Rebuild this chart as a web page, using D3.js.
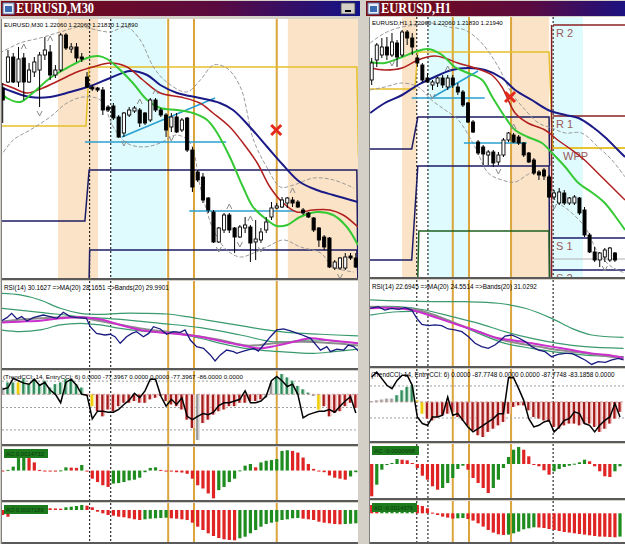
<!DOCTYPE html>
<html>
<head>
<meta charset="utf-8">
<script src="https://cdnjs.cloudflare.com/ajax/libs/d3/7.8.5/d3.min.js"></script>
<style>
  body { margin: 0; background: #d4d0c8; }
  svg { display: block; }
</style>
</head>
<body>
<div id="container"></div>
<script>
// ---------- EURUSD M30 (left window) ----------
const m30Open = [1.2366,1.2372,1.2397,1.2372,1.2396,1.2372,1.2382,1.2384,1.2399,1.2402,1.2379,1.2384,1.2419,1.2405,1.2407,1.2397,1.2377,1.2367,1.2366,1.2364,1.2347,1.2348,1.2337,1.2321,1.2339,1.2343,1.2344,1.2341,1.2334,1.2354,1.2344,1.2339,1.2327,1.2337,1.2324,1.2336,1.2304,1.2282,1.2277,1.2256,1.2242,1.2212,1.2224,1.2239,1.2226,1.2217,1.2226,1.2227,1.2212,1.2214,1.2224,1.2237,1.2246,1.2247,1.2251,1.2254,1.2252,1.2244,1.2241,1.2236,1.2226,1.2217,1.2216,1.2186,1.2186,1.2186,1.2198,1.2196];
const m30High = [1.2371,1.2404,1.2401,1.2407,1.2401,1.2391,1.2397,1.2402,1.2417,1.2409,1.2389,1.2421,1.2421,1.2411,1.2411,1.2401,1.2382,1.2369,1.2367,1.2367,1.2349,1.2351,1.2339,1.2342,1.2347,1.2348,1.2346,1.2342,1.2356,1.2356,1.2346,1.2341,1.2341,1.2341,1.2336,1.2337,1.2307,1.2284,1.2281,1.2257,1.2244,1.2227,1.2241,1.2241,1.2227,1.2229,1.2237,1.2229,1.2234,1.2226,1.2237,1.2252,1.2251,1.2257,1.2257,1.2257,1.2254,1.2246,1.2242,1.2237,1.2227,1.2219,1.2217,1.2194,1.2197,1.2201,1.2201,1.2201];
const m30Low = [1.2331,1.2371,1.2371,1.2367,1.2354,1.2371,1.2377,1.2347,1.2394,1.2374,1.2376,1.2382,1.2404,1.2401,1.2392,1.2392,1.2366,1.2363,1.2362,1.2339,1.2342,1.2334,1.2316,1.2317,1.2337,1.2341,1.2327,1.2329,1.2332,1.2342,1.2337,1.2317,1.2322,1.2321,1.2322,1.2302,1.2262,1.2272,1.2251,1.2241,1.2211,1.2211,1.2221,1.2221,1.2201,1.2216,1.2221,1.2192,1.2194,1.2211,1.2221,1.2234,1.2245,1.2246,1.2246,1.2247,1.2246,1.2239,1.2236,1.2222,1.2207,1.2204,1.2186,1.2184,1.2184,1.2184,1.2194,1.2186];
const m30Close = [1.2354,1.2397,1.2372,1.2395,1.2372,1.2384,1.2392,1.2399,1.2404,1.2379,1.2384,1.2419,1.2406,1.2407,1.2396,1.2395,1.2367,1.2365,1.2364,1.2344,1.2344,1.2336,1.2317,1.2341,1.2344,1.2346,1.2331,1.2331,1.2354,1.2344,1.2339,1.2324,1.2337,1.2322,1.2334,1.2304,1.2267,1.2274,1.2254,1.2244,1.2212,1.2226,1.2239,1.2224,1.2217,1.2227,1.2229,1.2211,1.2215,1.2222,1.2232,1.2246,1.2248,1.2254,1.2256,1.2251,1.2247,1.2241,1.2237,1.2224,1.2214,1.2207,1.2187,1.2192,1.2196,1.2197,1.2196,1.2187];

// moving averages and bands as [bar, price]
const m30MaGreen = [[-0.5,1.2362],[0.8,1.2356],[3.3,1.2352],[5.7,1.2361],[9,1.2376],[12.2,1.2386],[16,1.2396],[18.1,1.2398],[19.8,1.2395],[22.3,1.2384],[24.7,1.2371],[27.4,1.2354],[29.9,1.2346],[33.1,1.2344],[36.1,1.2341],[38.8,1.2334],[40.7,1.2321],[43.1,1.2297],[45.6,1.2267],[47.5,1.2247],[50.2,1.2234],[52,1.2228],[54,1.2229],[56.4,1.2237],[59.6,1.2242],[62.7,1.2239],[65.3,1.2227],[67.4,1.2209]];
const m30MaRed = [[-0.5,1.2371],[2,1.2366],[4.6,1.2361],[7.6,1.2366],[10.9,1.2374],[14.1,1.2382],[17.1,1.2387],[20.4,1.2391],[23.6,1.2387],[26.6,1.2374],[29.9,1.2361],[33.7,1.2357],[37.4,1.2351],[39.9,1.2341],[43.1,1.2327],[45.6,1.2311],[48.3,1.2291],[50.7,1.2267],[53.2,1.2251],[55.8,1.2242],[58.9,1.2244],[62.1,1.2244],[64.6,1.2239],[67.4,1.2227]];
const m30MaBlue = [[-0.5,1.2367],[2,1.2362],[5.2,1.2357],[9,1.2357],[12.8,1.2362],[16.6,1.2368],[20.4,1.2376],[24.2,1.2383],[27.4,1.2379],[29.9,1.2369],[33.1,1.2361],[37.4,1.2356],[41.2,1.2351],[43.7,1.2344],[46.9,1.2327],[50.2,1.2307],[53.2,1.2289],[56.4,1.2272],[59.6,1.2264],[62.7,1.2259],[67.4,1.2252]];
const m30BandUp = [[-0.5,1.2401],[3.3,1.2411],[7.1,1.2416],[10.9,1.2422],[14.7,1.2427],[17.8,1.2424],[20.4,1.2422],[23.5,1.2427],[26.1,1.2414],[28.6,1.2387],[31.1,1.2372],[34.9,1.2362],[37.5,1.2374],[40,1.2389],[42.5,1.2386],[45.1,1.2367],[47.6,1.2314],[50.1,1.2287],[52.7,1.2267],[55.2,1.2269],[59,1.2276],[62.8,1.2274],[66.6,1.2266]];
const m30BandDn = [[-0.5,1.2297],[2,1.2314],[5.2,1.2324],[9,1.2337],[12.2,1.2351],[15.3,1.2357],[18.5,1.2354],[21,1.2327],[23.5,1.2311],[26.7,1.2307],[29.9,1.2311],[33,1.2319],[35.6,1.2311],[37.5,1.2267],[40,1.2224],[42.5,1.2204],[45.1,1.2197],[47.6,1.2201],[50.1,1.2207],[53.3,1.2214],[56.5,1.2207],[60.3,1.2201],[62.8,1.2187],[66.6,1.2182]];
const m30PivotYellow = [[-0.5,1.2328],[15.8,1.2328],[16.4,1.2387],[67.2,1.2387],[67.5,1.2297]];
const m30PivotNavy1 = [[-0.5,1.2233],[15.6,1.2233],[16.4,1.2284],[67.2,1.2284],[67.4,1.2176]];
const m30PivotNavy2 = [[16.4,1.2176],[16.5,1.2204],[67.2,1.2204],[67.4,1.2176]];
const m30Trend = [[[15.6,1.2312],[42.4,1.2312]], [[22.6,1.2317],[40.3,1.2356]], [[35.4,1.2243],[55.5,1.2243]]];
const m30Cross = [51.9, 1.2324];
const m30FractUp = [4, 9, 26, 29, 43, 47, 55];
const m30FractDn = [7, 23, 32, 41, 45, 49, 64];
const m30Peach = [[10.5, 18.1], [54.1, 68]];
const m30Cyan = [[20.5, 31]];
const m30Dotted = [16.5, 20.5];
const m30Orange = [31.4, 36.3, 52];

const m30Rsi = [[-0.5,50.3],[0.8,53.1],[1.7,56.1],[2.7,52.1],[3.6,53.8],[4.6,50.7],[5.8,53.1],[7.7,54.9],[9,53.8],[10.3,52.6],[11.5,56.8],[12.8,53.8],[14.1,53.1],[15.9,52.6],[16.6,46.8],[17.8,42.1],[19.4,41],[20.4,41.5],[21.3,39.8],[22.3,35.2],[23.5,39.8],[24.5,42.1],[25.4,43.3],[26.7,39.8],[27.7,42.1],[28.6,46.8],[29.9,45.2],[31.1,41.5],[32.4,43.3],[33.7,42.8],[34.6,44.5],[35.6,37.5],[36.8,32.9],[38.1,31.7],[39.4,27.1],[40.3,22.9],[41.3,27.1],[42.5,30.5],[43.8,29.4],[44.4,28.2],[45.7,29.8],[47.6,31.7],[48.5,29.8],[49.5,34],[50.8,39.8],[52,44.5],[53.3,45.2],[54.6,43.8],[56.5,41.5],[58.4,38.7],[60.3,30.5],[61.5,32.9],[62.2,29.4],[63.4,31.2],[64.7,30.5],[65.6,34],[66.6,32.9],[67.5,29.8]];
const m30RsiMa = [[-0.5,49.6],[3.3,50.3],[7.1,51],[10.9,52.6],[14.7,53.3],[18.5,51.9],[22.3,48],[26.1,44.5],[29.9,42.8],[33.7,41.5],[37.5,39.8],[41.3,36.8],[45.1,34],[48.9,31.7],[52,33.6],[55.2,36.3],[58.4,38.7],[61.5,37.5],[64.7,36.3],[67.5,35.2]];
const m30RsiMid = [[-0.5,50.3],[7.1,52.6],[14.7,53.1],[18.5,50.7],[26.1,45.6],[33.7,42.1],[41.3,37.5],[46.3,33.6],[51.4,35.2],[56.5,36.3],[62.8,35.2],[67.5,33.6]];
const m30RsiUp = [[-0.5,70],[3.3,68.9],[7.1,65.4],[10.9,59.6],[14.7,56.1],[18.5,55.4],[22.3,56.1],[26.7,56.1],[31.1,55.6],[34.9,53.8],[38.7,51.4],[42.5,49.1],[46.3,46.8],[50.1,44.5],[53.9,42.8],[60.3,41.5],[67.5,40.3]];
const m30RsiBand2 = [[-0.5,59.6],[7.1,56.8],[14.7,53.8],[22.3,51.9],[29.9,49.1],[37.5,46.1],[45.1,41],[51.4,36.3],[59,37.5],[67.5,35.2]];
const m30RsiDn = [[-0.5,44.5],[3.3,43.3],[7.1,44.5],[10.9,48],[14.7,49.1],[18.5,48],[22.3,45.6],[26.1,43.8],[29.9,42.8],[33.7,41.5],[37.5,38.7],[41.3,35.2],[45.1,32.2],[48.9,30.5],[52.7,29.4],[59,28.2],[62.8,29.4],[67.5,31.2]];

const m30Cci = [51,90,90,90,115,77,115,77,103,51,77,90,115,115,77,51,-13,-90,-128,-167,-115,-128,-90,-64,-64,-51,-64,-64,-38,-26,-13,-51,-77,-90,-115,-192,-256,-346,-218,-192,-154,-128,-115,-90,-90,-64,-64,-51,-51,-38,-26,90,128,154,128,103,64,38,13,-13,-115,-90,-167,-141,-128,-90,-64,-103];
const m30CciState = 'nggyggggggggggggryrrrrrrrrrrrrrrrrrrrnrrrrrrrrrrrrnngggggggnyrrrrrrr';
const m30Entry = [38,51,121,103,85,77,115,69,90,33,0,-64,90,115,69,0,-8,-187,-128,-128,-136,-136,-115,-77,-44,8,-26,26,115,115,-13,-90,-38,-77,-26,-167,-192,-167,-146,-154,-136,-85,-64,-64,-51,-38,26,-64,-64,-51,-13,103,136,103,59,77,0,-179,-154,-141,-128,-128,-115,-136,-90,-51,-18,-141];
const m30CciLevels = [100, -100, -270];
const m30Ac = [-0.00007,0.00007,0.0004,0.00127,0.0014,0.00127,0.00083,0.00007,-0.00002,-0.00007,-0.0001,0.00002,0.00033,0.0003,0.00027,0.00057,-0.00003,-0.00083,-0.00117,-0.0015,-0.00167,-0.00133,-0.00127,-0.00117,-0.001,-0.00093,-0.00073,-0.00017,0.00027,0.00033,0.00007,-0.00002,-0.00007,-0.00017,-0.0002,-0.00033,-0.00083,-0.0015,-0.00183,-0.00233,-0.00283,-0.002,-0.00167,-0.00117,-0.00083,0.00002,0.0005,0.00067,0.00033,0.00083,0.001,0.00107,0.00117,0.002,0.00207,0.002,0.00183,0.00133,0.00067,0.00017,-0.00002,-0.00017,-0.0005,-0.00073,-0.00083,-0.00093,-0.0006,-0.00017];
const m30Ao = [-0.0005,-0.00067,-0.00033,-0.00017,-0.00002,0.00007,0.00013,0.00017,0.0002,0.00017,0.00015,0.00013,0.00027,0.00033,0.0004,0.0005,0.00043,0.00027,-0.00017,-0.00033,-0.0005,-0.00057,-0.00067,-0.00073,-0.00083,-0.00093,-0.001,-0.00093,-0.00087,-0.00083,-0.0008,-0.00077,-0.00083,-0.00087,-0.00093,-0.001,-0.00127,-0.00167,-0.002,-0.00233,-0.0026,-0.0028,-0.00293,-0.003,-0.00303,-0.00283,-0.00267,-0.00233,-0.002,-0.00167,-0.0014,-0.00127,-0.00117,-0.001,-0.00093,-0.00083,-0.0008,-0.00087,-0.00093,-0.001,-0.00117,-0.00127,-0.00133,-0.0014,-0.00143,-0.0014,-0.00137,-0.00133];

// ---------- EURUSD H1 (right window) ----------
const h1Open = [1.2374,1.2394,1.2399,1.2407,1.2399,1.2411,1.2399,1.2422,1.2416,1.2396,1.2389,1.2376,1.2369,1.2371,1.2376,1.2367,1.2376,1.2367,1.2362,1.2351,1.2332,1.2312,1.2307,1.2299,1.2302,1.2292,1.2299,1.2314,1.2319,1.2317,1.2311,1.2301,1.2294,1.2282,1.2284,1.2277,1.2257,1.2251,1.2261,1.2251,1.2251,1.2256,1.2244,1.2219,1.2202,1.2194,1.2197,1.2194,1.2201];
const h1High = [1.2396,1.2411,1.2416,1.2417,1.2421,1.2414,1.2424,1.2424,1.2421,1.2399,1.2391,1.2381,1.2374,1.2377,1.2379,1.2379,1.2379,1.2371,1.2364,1.2352,1.2334,1.2314,1.2309,1.2304,1.2304,1.2302,1.2316,1.2322,1.2321,1.2319,1.2312,1.2302,1.2296,1.2284,1.2286,1.2279,1.2264,1.2266,1.2264,1.2257,1.2259,1.2257,1.2247,1.2221,1.2207,1.2202,1.2206,1.2207,1.2202];
const h1Low = [1.2369,1.2387,1.2396,1.2394,1.2397,1.2387,1.2397,1.2409,1.2399,1.2387,1.2372,1.2371,1.2364,1.2367,1.2366,1.2364,1.2366,1.2359,1.2347,1.2331,1.2321,1.2299,1.2289,1.2289,1.2287,1.2289,1.2297,1.2312,1.2311,1.2309,1.2297,1.2291,1.2279,1.2274,1.2274,1.2256,1.2254,1.2249,1.2249,1.2249,1.2249,1.2239,1.2217,1.2201,1.2192,1.2187,1.2192,1.2192,1.2192];
const h1Close = [1.2391,1.2409,1.2407,1.2399,1.2412,1.2397,1.2422,1.2416,1.2407,1.2391,1.2374,1.2372,1.2372,1.2376,1.2369,1.2376,1.2369,1.2362,1.2349,1.2332,1.2322,1.2301,1.2300,1.2302,1.2291,1.2299,1.2314,1.2321,1.2312,1.2311,1.2299,1.2292,1.2281,1.2279,1.2278,1.2257,1.2261,1.2262,1.2251,1.2256,1.2257,1.2241,1.2219,1.2202,1.2194,1.2201,1.2204,1.2206,1.2194];

const h1MaGreen = [[-0.3,1.2392],[2.6,1.2391],[6,1.2397],[8.5,1.2402],[11.1,1.2405],[13.9,1.2399],[16.4,1.2387],[19,1.2381],[21.8,1.2374],[23.8,1.2357],[26.3,1.2337],[28.3,1.2324],[30.8,1.2317],[33.6,1.2311],[35.6,1.2301],[38.2,1.2287],[40.8,1.2271],[43.6,1.2261],[46,1.2251],[48.6,1.2234],[50,1.2224]];
const h1MaRed = [[-0.3,1.2386],[2.6,1.2384],[6,1.2386],[9.1,1.2394],[12.4,1.2398],[14.4,1.2396],[17,1.2391],[20.4,1.2386],[23.7,1.2379],[25.7,1.2367],[28.3,1.2341],[30.8,1.2331],[34.2,1.2324],[36.7,1.2314],[39.5,1.2304],[42,1.2294],[44.6,1.2281],[47.4,1.2267],[50,1.2254]];
const h1MaBlue = [[-0.3,1.2341],[2.6,1.2351],[6,1.2359],[9.1,1.2369],[12.4,1.2377],[15.8,1.2384],[19,1.2386],[22.4,1.2384],[25.7,1.2376],[28.3,1.2364],[31.6,1.2354],[34.8,1.2344],[38.2,1.2339],[40.8,1.2336],[43.6,1.2327],[46,1.2317],[48.6,1.2304],[50,1.2297]];
const h1BandUp = [[-0.3,1.2411],[2.6,1.2421],[5.9,1.2427],[9.2,1.2429],[11.8,1.2431],[15.1,1.2427],[18.4,1.2424],[21.7,1.2411],[25,1.2387],[27.6,1.2361],[30.3,1.2344],[32.9,1.2331],[35.5,1.2326],[38.2,1.2321],[41.4,1.2321],[44.7,1.2307],[47.4,1.2294],[50,1.2277]];
const h1BandDn = [[-0.3,1.2364],[2.6,1.2367],[5.9,1.2371],[9.2,1.2367],[11.8,1.2354],[14.5,1.2344],[17.1,1.2334],[20.4,1.2307],[23,1.2281],[25.7,1.2274],[28.3,1.2272],[31.6,1.2281],[34.2,1.2277],[36.2,1.2254],[38.8,1.2244],[42.1,1.2227],[44.7,1.2201],[47.4,1.2187],[50,1.2181]];
const h1PivotYellow = [[-0.5,1.2365],[8.5,1.2365],[9.1,1.2402],[35,1.2402],[35.7,1.2306],[50,1.2306]];
const h1PivotNavy1 = [[-0.5,1.2305],[7.9,1.2305],[9.1,1.2337],[35,1.2337],[35.1,1.2288]];
const h1PivotNavy2 = [[-0.5,1.2194],[7.9,1.2194],[9.1,1.2288],[35,1.2288],[35.1,1.2177]];
const h1PivotGreen = [[9.1,1.2177],[9.3,1.2223],[35,1.2223],[35.1,1.2177]];
const h1Levels = ['R 2', 'R 1', 'WPP', 'S 1', 'S 2'];
const h1LevelPrice = [1.2429, 1.2338, 1.2306, 1.2216, 1.2184];
const h1Trend = [[[7.9,1.2356],[22.3,1.2356]], [[12.1,1.2357],[21,1.2383]], [[18.2,1.2311],[30.6,1.2311]]];
const h1Cross = [27.3, 1.2357];
const h1FractUp = [15, 28];
const h1FractDn = [4, 12, 25, 36, 46];
const h1Peach = [[6, 8.9], [27.7, 35]];
const h1Cyan = [[11.1, 19.2], [35.8, 41.7]];
const h1Dotted = [8.9, 11.1, 35.8];
const h1Orange = [16, 19.2, 27.5];

const h1Rsi = [[-0.3,58.2],[1.3,59.3],[2.6,57],[3.9,58.2],[5.3,57.5],[6.6,58.6],[7.9,57],[8.9,51.2],[9.9,47],[11.2,46.1],[12.5,46.6],[13.8,46.1],[15.1,43.8],[16.4,43.1],[17.8,41.9],[19.1,38.4],[20.4,33.8],[21.7,31.5],[23,30.3],[24.3,32.6],[25.3,35.4],[26.3,38.9],[27.6,39.6],[28.9,37.7],[30.3,35],[31.6,31.5],[32.9,29.1],[34.2,28],[35.5,24.5],[36.8,26.1],[38.2,26.8],[39.5,26.8],[40.8,24.5],[42.1,22.2],[43.4,19.1],[44.7,21],[46.1,20.5],[47.4,22.2],[48.7,23.3],[49.7,22.2]];
const h1RsiMa = [[-0.3,58.2],[2.6,58.6],[6.6,57.7],[9.2,55.8],[13.2,51.2],[17.1,46.6],[21.1,41.9],[25,37.3],[27.6,36.1],[31.6,33.8],[35.5,31.5],[39.5,29.1],[43.4,26.8],[47.4,25.2],[49.7,23.8]];
const h1RsiMid = [[-0.3,59.3],[5.3,58.6],[9.2,57],[13.2,52.4],[17.1,47],[21.1,41.9],[25,36.8],[28.9,33.8],[32.9,31.5],[36.8,29.1],[40.8,27.5],[44.7,25.6],[49.7,23.3]];
const h1RsiUp = [[-0.3,64],[5.3,63.3],[11.8,62.8],[18.4,62.8],[25,61.7],[30.3,58.2],[35.5,51.2],[39.5,44.2],[43.4,39.6],[49.7,38]];
const h1RsiBand2 = [[-0.3,59.3],[5.3,59.3],[10.5,57],[15.8,52.4],[21.1,47.7],[26.3,41.9],[31.6,37.3],[36.8,33.8],[42.1,31.5],[49.7,30.3]];
const h1RsiDn = [[-0.3,53.5],[5.3,55.8],[10.5,55.4],[15.8,48.9],[21.1,40.7],[26.3,33.8],[31.6,30.3],[36.8,27.5],[42.1,25.6],[49.7,24.5]];

const h1Cci = [6,10,15,21,21,42,73,94,104,10,-73,-104,-115,-94,-83,-73,-62,-94,-115,-146,-177,-208,-219,-187,-167,-146,-125,-73,-31,-21,-21,-52,-94,-104,-115,-125,-156,-167,-146,-135,-135,-146,-135,-135,-156,-187,-167,-135,-104,-62];
const h1CciState = 'nnnnnggggyyrrrrrrrrrrrrrrrrrrrrrrrrrrrrrrrrrrrrrrr';
const h1Entry = [156,187,146,104,83,135,167,167,104,-94,-135,-146,-94,-94,-83,31,-83,-73,-115,-156,-187,-167,-146,-125,-104,-73,-73,152,152,83,10,-104,-156,-146,-125,-115,-187,-156,-115,-104,-62,-73,-135,-146,-187,-146,-115,-94,-10,-94];
const h1CciLevels = [100, -100];
const h1Ac = [-0.00323,-0.00207,-0.00057,-0.00007,0.0001,0.0005,0.00043,0.00037,0.0001,-0.0004,-0.00117,-0.00157,-0.00223,-0.00257,-0.0024,-0.0019,-0.0014,-0.0005,-0.00017,-0.00057,-0.0014,-0.0019,-0.0024,-0.0029,-0.0024,-0.00157,-0.0004,0.0007,0.00143,0.0017,0.00143,0.00077,-0.00003,-0.00023,-0.00063,-0.00107,-0.00073,-0.0005,-0.0003,-0.00017,0.00003,0.00017,0.00043,0.00027,-0.00023,-0.00073,-0.00123,-0.0013,-0.00073,-0.00023];
const h1Ao = [0.00083,0.0006,0.00063,0.00067,0.0007,0.00073,0.00077,0.0008,0.00085,0.00083,0.00073,0.0005,0.00007,-0.00017,-0.00033,-0.00043,-0.00053,-0.0005,-0.00047,-0.00057,-0.00073,-0.001,-0.00133,-0.00167,-0.00193,-0.0021,-0.00217,-0.00213,-0.002,-0.00183,-0.0016,-0.0015,-0.0014,-0.00142,-0.00147,-0.00157,-0.00167,-0.00177,-0.00187,-0.00193,-0.002,-0.00207,-0.00213,-0.0022,-0.00227,-0.00233,-0.00234,-0.00237,-0.0024,-0.00233];

// ---------- drawing ----------
const width = 625;
const height = 544;

const svg = d3.select('#container')
              .append('svg')
              .attr('width', width)
              .attr('height', height);

svg.append('rect').attr('width', width).attr('height', height).attr('fill', '#d4d0c8');

const defs = svg.append('defs');
const grad = defs.append('linearGradient').attr('id', 'titleGrad');
grad.append('stop').attr('offset', '0%').attr('stop-color', '#7c0b10');
grad.append('stop').attr('offset', '60%').attr('stop-color', '#5a0a40');
grad.append('stop').attr('offset', '100%').attr('stop-color', '#12128a');

const FONT = '"Liberation Sans", Arial, sans-serif';
const colGreen = '#1f8c1f', colRed = '#e02424';
const cciDark = {g: '#2f8a5c', r: '#a51c1c', y: '#f0cc00', n: '#9a9a9a'};
const cciLight = {g: '#c4e4d0', r: '#f4c6c6', y: '#f6e79a', n: '#e0e0e0'};

// small label text, font size fitted so the natural width equals len
function smallText(parent, x, y, str, len, color) {
    const t = parent.append('text').attr('x', x).attr('y', y).text(str)
       .attr('font-family', FONT).attr('font-size', 7).attr('fill', color || '#000');
    const natural = t.node().getComputedTextLength();
    if (natural > 0) t.attr('font-size', 7 * len / natural);
    return t;
}

function linePath(g, pts, xs, ys, color, w, curved, dash) {
    const gen = d3.line().x(d => xs(d[0])).y(d => ys(d[1]));
    if (curved) gen.curve(d3.curveCatmullRom);
    g.append('path').datum(pts).attr('d', gen)
     .attr('fill', 'none').attr('stroke', color).attr('stroke-width', w)
     .attr('stroke-dasharray', dash || null);
}

function drawWindow(w) {
    // title bar
    svg.append('rect').attr('x', w.x0).attr('y', 0).attr('width', w.x1 - w.x0).attr('height', 17).attr('fill', '#d4d0c8');
    svg.append('rect').attr('x', w.x0 + 1).attr('y', 1).attr('width', w.x1 - w.x0 - 2).attr('height', 15).attr('fill', 'url(#titleGrad)');
    svg.append('rect').attr('x', w.x0 + 3).attr('y', 3).attr('width', 11).attr('height', 11).attr('fill', '#e8eef8').attr('stroke', '#6080b0');
    svg.append('rect').attr('x', w.x0 + 5).attr('y', 6).attr('width', 7).attr('height', 6).attr('fill', '#3a6ab0');
    svg.append('text').attr('x', w.x0 + 16).attr('y', 13).text(w.title)
       .attr('font-family', '"Liberation Serif", serif').attr('font-weight', 'bold')
       .attr('font-size', 14).attr('fill', '#fff')
       .attr('textLength', w.titleW).attr('lengthAdjust', 'spacingAndGlyphs');
    if (w.button) {
        svg.append('rect').attr('x', w.button).attr('y', 3).attr('width', 14).attr('height', 11)
           .attr('fill', '#d4d0c8').attr('stroke', '#404040').attr('stroke-width', 0.8);
        svg.append('rect').attr('x', w.button + 4).attr('y', 10).attr('width', 6).attr('height', 2).attr('fill', '#000');
    }
    const g = {};
    Object.keys(w.panes).forEach(k => {
        const [y0, y1] = w.panes[k];
        const id = w.id + k;
        defs.append('clipPath').attr('id', id).append('rect')
            .attr('x', w.cx0).attr('y', y0).attr('width', w.cx1 - w.cx0).attr('height', y1 - y0);
        svg.append('rect').attr('x', w.cx0).attr('y', y0).attr('width', w.cx1 - w.cx0).attr('height', y1 - y0).attr('fill', '#fff');
        g[k] = svg.append('g').attr('clip-path', `url(#${id})`);
        svg.append('rect').attr('x', w.cx0).attr('y', y1).attr('width', w.cx1 - w.cx0).attr('height', 2).attr('fill', '#5a5a5a');
    });
    svg.append('line').attr('x1', w.cx0 - 0.5).attr('x2', w.cx0 - 0.5).attr('y1', w.panes.main[0]).attr('y2', height)
       .attr('stroke', '#808080');
    return g;
}

function verticals(g, xs, y0, y1, dotted, orange) {
    g.selectAll(null).data(orange).join('line')
     .attr('x1', d => xs(d)).attr('x2', d => xs(d)).attr('y1', y0).attr('y2', y1)
     .attr('stroke', '#dba43c').attr('stroke-width', 2);
    g.selectAll(null).data(dotted).join('line')
     .attr('x1', d => xs(d)).attr('x2', d => xs(d)).attr('y1', y0).attr('y2', y1)
     .attr('stroke', '#000').attr('stroke-width', 1).attr('stroke-dasharray', '2,2');
}

function drawMain(g, w, d) {
    const [y0, y1] = w.panes.main;
    const xs = w.xs;
    const ys = d3.scaleLinear().domain([1.2454 - y1 / 10000, 1.2454 - y0 / 10000]).range([y1, y0]);
    const step = xs(1) - xs(0);

    g.selectAll(null).data(d.peach).join('rect')
     .attr('x', b => xs(b[0])).attr('width', b => xs(b[1]) - xs(b[0]))
     .attr('y', y0).attr('height', y1 - y0).attr('fill', '#fbe3c7');
    g.selectAll(null).data(d.cyan).join('rect')
     .attr('x', b => xs(b[0])).attr('width', b => xs(b[1]) - xs(b[0]))
     .attr('y', y0).attr('height', y1 - y0).attr('fill', '#dffbfd');

    verticals(g, xs, y0, y1, d.dotted, d.orange);

    linePath(g, d.pivYellow, xs, ys, '#e6c02a', 1.5);
    d.pivNavy.forEach(p => linePath(g, p, xs, ys, '#1c1c64', 1.5));
    if (d.pivGreen) linePath(g, d.pivGreen, xs, ys, '#1f5f1f', 1.5);
    if (d.levels) {
        const lvlColor = ['#8b2020', '#8b2020', '#e6c02a', '#1c1c64', '#1c1c64'];
        d.levels.forEach((name, i) => {
            linePath(g, [[35.8, d.levelPrice[i]], [50, d.levelPrice[i]]], xs, ys, lvlColor[i], 1.5);
            g.append('text').attr('x', xs(35.8) + (name === 'WPP' ? 10 : 3)).attr('y', ys(d.levelPrice[i]) + 12)
             .text(name).attr('font-family', FONT).attr('font-size', 11).attr('fill', '#9a5a5a');
        });
        linePath(g, [[35.8, 1.2195], [50, 1.2195]], xs, ys, '#b0b0b0', 1);
        linePath(g, [[35.5, 1.2177], [35.5, d.levelPrice[0]]], xs, ys, '#8b2020', 1.5);
    }

    linePath(g, d.bandUp, xs, ys, '#9a9a9a', 1, true, '4,2');
    linePath(g, d.bandDn, xs, ys, '#9a9a9a', 1, true, '4,2');

    d.trend.forEach(t => linePath(g, t, xs, ys, '#2a9fd0', 1.5));

    linePath(g, d.maBlue, xs, ys, '#1a1a86', 2, true);
    linePath(g, d.maRed, xs, ys, '#b01e1e', 1.5, true);
    linePath(g, d.maGreen, xs, ys, '#35c935', 2, true);

    const candles = d3.range(d.open.length).map(i => ({i, o: d.open[i], h: d.high[i], l: d.low[i], c: d.close[i]}));
    g.selectAll(null).data(candles).join('line')
     .attr('x1', c => xs(c.i)).attr('x2', c => xs(c.i))
     .attr('y1', c => ys(c.h)).attr('y2', c => ys(c.l))
     .attr('stroke', '#000').attr('stroke-width', 1);
    g.selectAll(null).data(candles).join('rect')
     .attr('x', c => xs(c.i) - step * 0.3).attr('width', step * 0.6)
     .attr('y', c => ys(Math.max(c.o, c.c)))
     .attr('height', c => Math.max(0.8, Math.abs(ys(c.o) - ys(c.c))))
     .attr('fill', c => c.c >= c.o ? '#fff' : '#000')
     .attr('stroke', '#000').attr('stroke-width', 0.9);

    g.selectAll(null).data(d.fractUp).join('path')
     .attr('d', i => `M${xs(i) - 2.5},${ys(d.high[i]) - 4} L${xs(i)},${ys(d.high[i]) - 9} L${xs(i) + 2.5},${ys(d.high[i]) - 4}`)
     .attr('fill', 'none').attr('stroke', '#8a8a8a').attr('stroke-width', 1);
    g.selectAll(null).data(d.fractDn).join('path')
     .attr('d', i => `M${xs(i) - 2.5},${ys(d.low[i]) + 4} L${xs(i)},${ys(d.low[i]) + 9} L${xs(i) + 2.5},${ys(d.low[i]) + 4}`)
     .attr('fill', 'none').attr('stroke', '#8a8a8a').attr('stroke-width', 1);

    const cx = xs(d.cross[0]), cy = ys(d.cross[1]);
    g.append('path').attr('d', `M${cx - 5},${cy - 5} L${cx + 5},${cy + 5} M${cx - 5},${cy + 5} L${cx + 5},${cy - 5}`)
     .attr('stroke', '#e42a1c').attr('stroke-width', 3);

    smallText(svg, w.cx0 + 2, y0 + 8, d.header, d.headerW);
}

function drawRsi(g, w, d) {
    const [y0, y1] = w.panes.rsi;
    const xs = w.xs;
    const ys = d3.scaleLinear().domain([18, 80]).range([w.rsiBase, w.rsiBase - 89]);
    verticals(g, xs, y0, y1, d.dotted, d.orange);
    linePath(g, d.rsiUp, xs, ys, '#3a9a6e', 1.2, true);
    linePath(g, d.rsiBand2, xs, ys, '#3a9a6e', 1.2, true);
    linePath(g, d.rsiDn, xs, ys, '#3a9a6e', 1.2, true);
    linePath(g, d.rsiMid, xs, ys, '#8c8c8c', 2, true);
    linePath(g, d.rsiMa, xs, ys, '#cc30cc', 2, true);
    linePath(g, d.rsi, xs, ys, '#1a1a80', 1.3);
    smallText(svg, w.cx0 + 2, y0 + 9, d.rsiLabel, d.rsiLabelW);
}

function drawCci(g, w, d) {
    const [y0, y1] = w.panes.cci;
    const xs = w.xs;
    const ys = d3.scaleLinear().domain(d.cciDomain).range([y1, y0]);
    verticals(g, xs, y0, y1, d.dotted, d.orange);
    g.selectAll(null).data(d.cciLevels).join('line')
     .attr('x1', w.cx0).attr('x2', w.cx1).attr('y1', v => ys(v)).attr('y2', v => ys(v))
     .attr('stroke', '#a0a0a0').attr('stroke-dasharray', '2,2');
    const bars = d.cci.map((v, i) => ({i, v, s: d.cciState[i]}));
    g.selectAll(null).data(bars).join('rect')
     .attr('x', b => xs(b.i) - 2.2).attr('width', 4.4)
     .attr('y', b => Math.min(ys(b.v), ys(0))).attr('height', b => Math.abs(ys(b.v) - ys(0)))
     .attr('fill', b => cciLight[b.s]);
    g.selectAll(null).data(bars).join('rect')
     .attr('x', b => xs(b.i) - 1.6).attr('width', 2.2)
     .attr('y', b => Math.min(ys(b.v), ys(0))).attr('height', b => Math.abs(ys(b.v) - ys(0)))
     .attr('fill', b => cciDark[b.s]);
    g.append('line').attr('x1', w.cx0).attr('x2', w.cx1).attr('y1', ys(0)).attr('y2', ys(0))
     .attr('stroke', '#c9a0a0').attr('stroke-dasharray', '3,2');
    linePath(g, d.entry.map((v, i) => [i, v]), xs, ys, '#000', 1.5);
    smallText(g, w.cx0 + 1, y0 + 8, d.cciLabel, d.cciLabelW);
}

function drawOsc(g, w, key, vals, domain, label, labelW) {
    const [y0, y1] = w.panes[key];
    const xs = w.xs;
    const ys = d3.scaleLinear().domain(domain).range([y1, y0]);
    verticals(g, xs, y0, y1, w.data.dotted, w.data.orange);
    g.selectAll(null).data(vals).join('rect')
     .attr('x', (v, i) => xs(i) - 1.6).attr('width', 3.2)
     .attr('y', v => Math.min(ys(v), ys(0)))
     .attr('height', v => Math.max(1, Math.abs(ys(v) - ys(0))))
     .attr('fill', (v, i) => i > 0 && v >= vals[i - 1] ? colGreen : colRed);
    g.append('rect').attr('x', w.cx0 + 2).attr('y', y0 + 2).attr('width', labelW).attr('height', 9).attr('fill', '#1d7a1d');
    smallText(g, w.cx0 + 4, y0 + 9, label, labelW - 6, '#0c3a0c');
}

const leftData = {
    open: m30Open, high: m30High, low: m30Low, close: m30Close,
    maGreen: m30MaGreen, maRed: m30MaRed, maBlue: m30MaBlue, bandUp: m30BandUp, bandDn: m30BandDn,
    pivYellow: m30PivotYellow, pivNavy: [m30PivotNavy1, m30PivotNavy2],
    trend: m30Trend, cross: m30Cross, fractUp: m30FractUp, fractDn: m30FractDn,
    peach: m30Peach, cyan: m30Cyan, dotted: m30Dotted, orange: m30Orange,
    header: 'EURUSD,M30  1.22060 1.22060 1.21810 1.21890', headerW: 134,
    rsi: m30Rsi, rsiMa: m30RsiMa, rsiMid: m30RsiMid, rsiUp: m30RsiUp, rsiBand2: m30RsiBand2, rsiDn: m30RsiDn,
    rsiLabel: 'RSI(14) 30.1627  =>MA(20) 28.1651  =>Bands(20) 29.9901', rsiLabelW: 165,
    cci: m30Cci, cciState: m30CciState, entry: m30Entry, cciLevels: m30CciLevels, cciDomain: [-377, 177],
    cciLabel: '(TrendCCI: 14, EntryCCI: 6)  0.0000 -77.3967 0.0000 0.0000 -77.3967 -86.0000 0.0000', cciLabelW: 240,
    ac: m30Ac, acDomain: [-0.003, 0.0024], acLabel: 'AC  0.0014732', acW: 44,
    ao: m30Ao, aoDomain: [-0.0032, 0.0007], aoLabel: 'AO  0.0007186', aoW: 44
};
const rightData = {
    open: h1Open, high: h1High, low: h1Low, close: h1Close,
    maGreen: h1MaGreen, maRed: h1MaRed, maBlue: h1MaBlue, bandUp: h1BandUp, bandDn: h1BandDn,
    pivYellow: h1PivotYellow, pivNavy: [h1PivotNavy1, h1PivotNavy2], pivGreen: h1PivotGreen,
    levels: h1Levels, levelPrice: h1LevelPrice,
    trend: h1Trend, cross: h1Cross, fractUp: h1FractUp, fractDn: h1FractDn,
    peach: h1Peach, cyan: h1Cyan, dotted: h1Dotted, orange: h1Orange,
    header: 'EURUSD,H1  1.22060 1.22060 1.21830 1.21940', headerW: 131,
    rsi: h1Rsi, rsiMa: h1RsiMa, rsiMid: h1RsiMid, rsiUp: h1RsiUp, rsiBand2: h1RsiBand2, rsiDn: h1RsiDn,
    rsiLabel: 'RSI(14) 22.6945  =>MA(20) 24.5514  =>Bands(20) 31.0292', rsiLabelW: 165,
    cci: h1Cci, cciState: h1CciState, entry: h1Entry, cciLevels: h1CciLevels, cciDomain: [-244, 206],
    cciLabel: '(TrendCCI: 14, EntryCCI: 6)  0.0000 -87.7748 0.0000 0.0000 -87.7748 -83.1858 0.0000', cciLabelW: 244,
    ac: h1Ac, acDomain: [-0.0034, 0.002], acLabel: 'AC  -0.0000668', acW: 47,
    ao: h1Ao, aoDomain: [-0.00287, 0.00123], aoLabel: 'AO  -0.0014376', aoW: 45
};

const leftWin = {
    id: 'L', x0: 0, x1: 361, cx0: 2, cx1: 358, title: 'EURUSD,M30', titleW: 78, button: 341,
    panes: {main: [19, 278], rsi: [281, 368], cci: [371, 444], ac: [447, 500], ao: [503, 542]},
    xs: d3.scaleLinear().domain([0, 67]).range([2.7, 355.8]), rsiBase: 368, data: leftData
};
const rightWin = {
    id: 'R', x0: 365, x1: 640, cx0: 370, cx1: 640, title: 'EURUSD,H1', titleW: 70, button: null,
    panes: {main: [17, 277], rsi: [280, 366], cci: [369, 441], ac: [444, 498], ao: [501, 542]},
    xs: d3.scaleLinear().domain([0, 49]).range([371.7, 620]), rsiBase: 366, data: rightData
};

[leftWin, rightWin].forEach(w => {
    const g = drawWindow(w);
    const d = w.data;
    drawMain(g.main, w, d);
    drawRsi(g.rsi, w, d);
    drawCci(g.cci, w, d);
    drawOsc(g.ac, w, 'ac', d.ac, d.acDomain, d.acLabel, d.acW);
    drawOsc(g.ao, w, 'ao', d.ao, d.aoDomain, d.aoLabel, d.aoW);
});
</script>
</body>
</html>
